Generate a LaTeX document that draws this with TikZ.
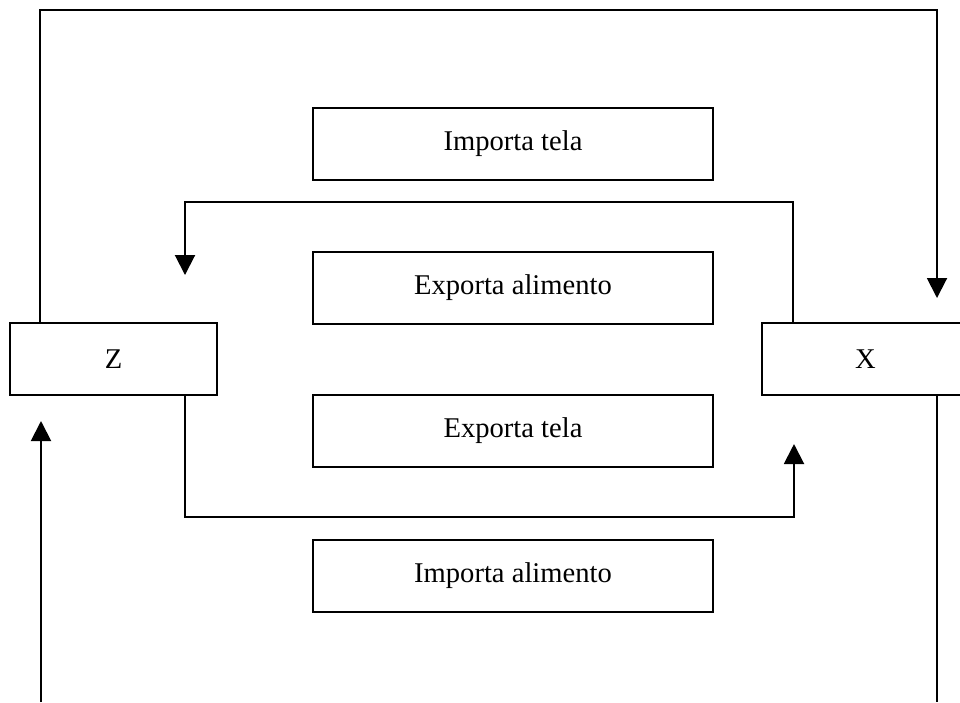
\documentclass[tikz,border=0pt]{standalone}
\usepackage{fontspec}
\setmainfont{Liberation Serif}
\usetikzlibrary{arrows.meta,calc}

\begin{document}
\begin{tikzpicture}[
  box/.style={draw,line width=0.85pt,minimum width=6cm,minimum height=1.08cm,
              inner sep=0pt,font=\fontsize{12.2}{14}\selectfont},
  side/.style={box,minimum width=3.105cm},
  arr/.style={-{Triangle[length=0.3cm,width=0.3cm]},line width=0.85pt},
  lin/.style={line width=0.85pt},
  x=0.015cm,y=-0.015cm
]
\useasboundingbox (0,0) rectangle (960,702);

\node[box]  (IT) at (513,144)   {Importa tela};
\node[box]  (EA) at (513,287.5) {Exporta alimento};
\node[box]  (ET) at (513,431)   {Exporta tela};
\node[box]  (IA) at (513,575.5) {Importa alimento};
\node[side] (Z)  at (113.5,359) {Z};
\node[side] (X)  at (865.5,359) {X};

% arrow ends
\coordinate (xtop) at (937,298);
\coordinate (ztop) at (185,275);
\coordinate (xbot) at (794,444);
\coordinate (zbot) at (41,421);
\coordinate (lowL) at (41,702);
\coordinate (lowR) at (937,702);

% outer loop
\draw[arr] ($(Z.north west)+(31,0)$) -- ++(0,-312) -| (xtop);
\draw[lin] (X.south -| lowR) -- (lowR);
\draw[arr] (lowL) -- (zbot);

% inner loop
\draw[arr] ($(X.north west)+(32,0)$) -- ++(0,-120) -| (ztop);
\draw[arr] (Z.south -| ztop) -- ++(0,121) -| (xbot);
\end{tikzpicture}
\end{document}
